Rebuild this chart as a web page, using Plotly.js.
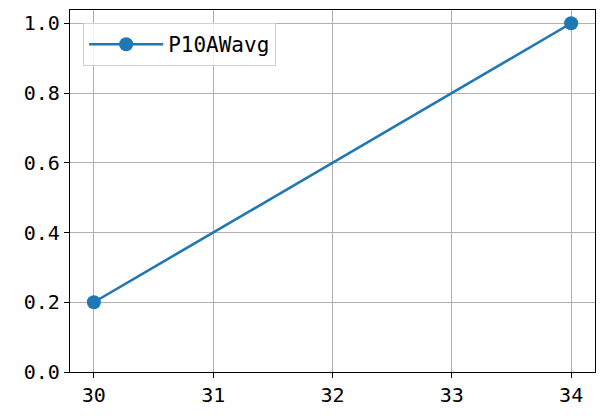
<!DOCTYPE html>
<html><head><meta charset="utf-8">
<script src="https://cdn.plot.ly/plotly-3.0.1.min.js"></script>
<style>body{margin:0;background:#fff}</style>
</head><body>
<div id="chart" style="width:600px;height:416px"></div>
<script>
const xValues = [30, 34];
const yValues = [0.2, 1.0];
const seriesName = "P10AWavg";
const xTickVals = [30, 31, 32, 33, 34];
const xTickText = ["30", "31", "32", "33", "34"];
const yTickVals = [0, 0.2, 0.4, 0.6, 0.8, 1.0];
const yTickText = ["0.0", "0.2", "0.4", "0.6", "0.8", "1.0"];

const font = "DejaVu Sans Mono, monospace";
const axisCommon = {
  showline: true, linecolor: "#000", linewidth: 1.3, mirror: true,
  ticks: "outside", ticklen: 5, tickwidth: 1.3, tickcolor: "#000",
  showgrid: true, gridcolor: "#b0b0b0", gridwidth: 1.1, zeroline: false,
  tickfont: {family: font, size: 20, color: "#000"}
};
Plotly.newPlot("chart", [{
  x: xValues, y: yValues, name: seriesName, type: "scatter", mode: "lines+markers",
  line: {color: "#1f77b4", width: 2.6},
  marker: {color: "#1f77b4", size: 14}
}], {
  width: 600, height: 416,
  margin: {l: 70, r: 5, t: 10, b: 44},
  paper_bgcolor: "#fff", plot_bgcolor: "#fff",
  showlegend: true,
  legend: {x: 0.025, y: 0.964, xanchor: "left", yanchor: "top",
    itemwidth: 74,
    bgcolor: "rgba(255,255,255,0.8)", bordercolor: "#d0d0d0", borderwidth: 1,
    font: {family: font, size: 21, color: "#000"}},
  xaxis: Object.assign({}, axisCommon, {range: [29.8, 34.2], tickvals: xTickVals, ticktext: xTickText}),
  yaxis: Object.assign({}, axisCommon, {range: [0, 1.038], tickvals: yTickVals, ticktext: yTickText})
}, {displayModeBar: false});
</script>
</body></html>
